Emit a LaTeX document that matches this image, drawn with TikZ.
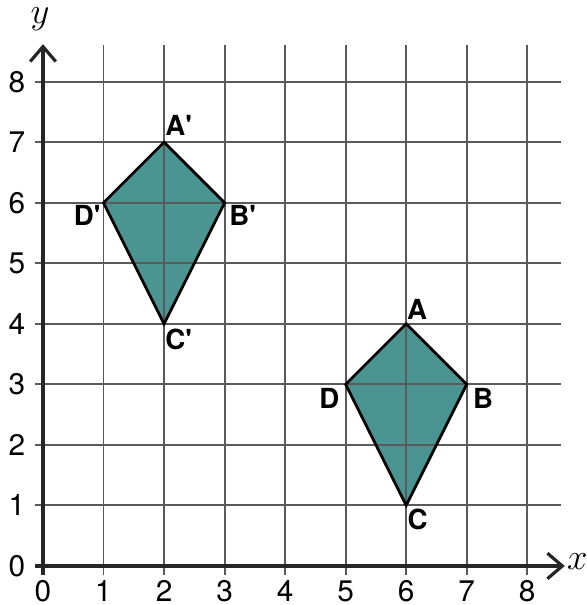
\documentclass[tikz,border=0pt]{standalone}
\usepackage{fontspec}
\setsansfont{TeX Gyre Heros}
\usetikzlibrary{arrows.meta}
\definecolor{kite}{HTML}{4A9591}
\definecolor{gridGray}{HTML}{5A5A5A}

\begin{document}
\begin{tikzpicture}[x=1cm,y=1cm,
    gridline/.style={gridGray,line width=0.9pt},
    axisline/.style={black!85,line width=1.5pt,-{Straight Barb[length=7pt,width=12pt,line width=1.5pt]}},
    kiteline/.style={black,line width=1.3pt,line join=miter},
    vlabel/.style={font=\sffamily\bfseries\fontsize{13}{13}\selectfont},
    numlabel/.style={inner sep=1pt,font=\sffamily\fontsize{14}{14}\selectfont}]
    \useasboundingbox (-0.71,-0.645) rectangle (8.98,9.35);
    % kite vertices
    \coordinate (A) at (6,4); \coordinate (B) at (7,3);
    \coordinate (C) at (6,1); \coordinate (D) at (5,3);
    \coordinate (A') at (2,7); \coordinate (B') at (3,6);
    \coordinate (C') at (2,4); \coordinate (D') at (1,6);
    \fill[kite] (A) -- (B) -- (C) -- (D) -- cycle;
    \fill[kite] (A') -- (B') -- (C') -- (D') -- cycle;
    % grid
    \foreach \i in {1,...,8} {
      \draw[gridline] (\i,-0.15) -- (\i,8.6);
      \draw[gridline] (-0.13,\i) -- (8.55,\i);
    }
    \draw[kiteline] (A) -- (B) -- (C) -- (D) -- cycle;
    \draw[kiteline] (A') -- (B') -- (C') -- (D') -- cycle;
    % axes
    \draw[axisline] (0,-0.15) -- (0,8.62);
    \draw[axisline] (-0.13,0) -- (8.62,0);
    \node[inner sep=1pt] (ylab) at (-0.05,9.04) {\fontsize{17}{17}\selectfont$y$};
    \node[inner sep=1pt] (xlab) at (8.83,0.08) {\fontsize{17}{17}\selectfont$x$};
    \foreach \i in {0,...,8} {
      \node[numlabel] (nx\i) at (\i,-0.42) {\i};
      \node[numlabel] (ny\i) at (-0.43,\i) {\i};
    }
    % vertex labels
    \node[vlabel] (lA) at (6.18,4.23) {A};
    \node[vlabel] (lB) at (7.27,2.77) {B};
    \node[vlabel] (lC) at (6.19,0.77) {C};
    \node[vlabel] (lD) at (4.73,2.77) {D};
    \node[vlabel] (lA') at (2.24,7.28) {A\textquotesingle};
    \node[vlabel] (lB') at (3.3,5.79) {B\textquotesingle};
    \node[vlabel] (lC') at (2.24,3.74) {C\textquotesingle};
    \node[vlabel] (lD') at (0.73,5.79) {D\textquotesingle};
\end{tikzpicture}
\end{document}
